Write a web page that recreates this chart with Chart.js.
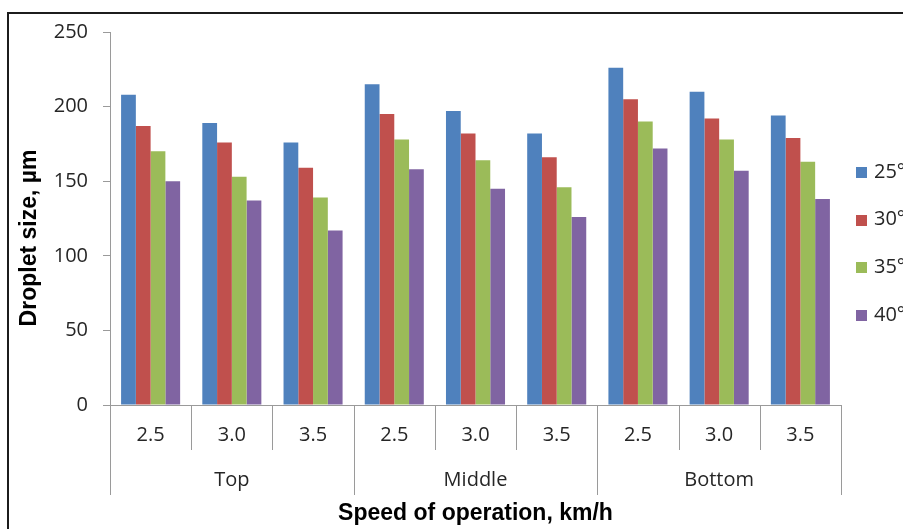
<!DOCTYPE html>
<html>
<head>
<meta charset="utf-8">
<script src="https://cdn.jsdelivr.net/npm/chart.js@4/dist/chart.umd.min.js"></script>
<style>
  html, body { margin: 0; padding: 0; background: #fff; overflow: hidden; }
  #wrap { position: relative; width: 903px; height: 529px; }
  #marco { position: absolute; left: 7px; top: 12px; width: 1000px; height: 1000px;
           border-left: 2px solid #1c1c1c; border-top: 2px solid #1c1c1c; }
  #grafico { position: absolute; left: 0; top: 0; }
</style>
</head>
<body>
<div id="wrap">
  <div id="marco"></div>
  <canvas id="grafico" width="903" height="529"></canvas>
</div>
<script>
// Datos
const velocidades = ['2.5', '3.0', '3.5'];
const posiciones = ['Top', 'Middle', 'Bottom'];
const angulos = ['25°', '30°', '35°', '40°'];

const gota25 = [208, 189, 176, 215, 197, 182, 226, 210, 194];
const gota30 = [187, 176, 159, 195, 182, 166, 205, 192, 179];
const gota35 = [170, 153, 139, 178, 164, 146, 190, 178, 163];
const gota40 = [150, 137, 117, 158, 145, 126, 172, 157, 138];

const colores = ['#4F81BD', '#C0504D', '#9BBB59', '#8064A2'];

// etiquetas de categoria: velocidad dentro de cada posicion
const etiquetas = posiciones.flatMap(() => velocidades);

const fuente = '"Open Sans", sans-serif';
const fuenteTitulo = '"Liberation Sans", Arial, sans-serif';
const colorTexto = '#262626';
const colorEje = '#9a9a9a';

// Dibuja separadores, segundo nivel del eje X, titulo Y y leyenda
const extras = {
    id: 'extras',
    afterDraw(chart) {
        const ctx = chart.ctx;
        const area = chart.chartArea;
        const xs = chart.scales.x;
        const n = chart.data.labels.length;
        const paso = (area.right - area.left) / n;
        const grupo = velocidades.length;

        ctx.save();
        ctx.strokeStyle = colorEje;
        ctx.lineWidth = 1;
        for (let k = 0; k <= n; k++) {
            const px = Math.round(area.left + k * paso) + 0.5;
            const fin = (k % grupo === 0) ? 495 : 450;
            ctx.beginPath();
            ctx.moveTo(px, area.bottom);
            ctx.lineTo(px, fin);
            ctx.stroke();
        }

        // nombres de posicion
        ctx.fillStyle = colorTexto;
        ctx.font = '20px ' + fuente;
        ctx.textAlign = 'center';
        ctx.textBaseline = 'middle';
        posiciones.forEach((p, g) => {
            const cx = xs.getPixelForValue(g * grupo + 1);
            ctx.fillText(p, cx, 480);
        });

        // titulo del eje Y
        ctx.save();
        ctx.translate(30, 238);
        ctx.rotate(-Math.PI / 2);
        ctx.font = 'bold 23px ' + fuenteTitulo;
        ctx.fillStyle = '#000';
        ctx.fillText('Droplet size, µm', 0, 0);
        ctx.restore();

        // leyenda
        ctx.font = '20px ' + fuente;
        ctx.textAlign = 'left';
        chart.data.datasets.forEach((ds, i) => {
            const cy = 172 + i * 47.7;
            ctx.fillStyle = ds.backgroundColor;
            ctx.fillRect(856, Math.round(cy - 5), 11, 11);
            ctx.fillStyle = colorTexto;
            ctx.fillText(ds.label, 874, cy);
        });
        ctx.restore();
    }
};

const ctx = document.getElementById('grafico').getContext('2d');
new Chart(ctx, {
    type: 'bar',
    data: {
        labels: etiquetas,
        datasets: [gota25, gota30, gota35, gota40].map((serie, i) => ({
            label: angulos[i],
            data: serie,
            backgroundColor: colores[i],
            borderWidth: 0,
            categoryPercentage: 0.727,
            barPercentage: 1
        }))
    },
    options: {
        responsive: false,
        animation: false,
        layout: { padding: { top: 32, right: 62, left: 0, bottom: 0 } },
        plugins: {
            legend: { display: false },
            tooltip: { enabled: false }
        },
        scales: {
            x: {
                grid: { display: false, drawTicks: false },
                border: { display: true, color: colorEje, width: 1 },
                ticks: {
                    autoSkip: false,
                    maxRotation: 0,
                    padding: 18,
                    color: colorTexto,
                    font: { family: fuente, size: 20 }
                },
                title: {
                    display: true,
                    text: 'Speed of operation, km/h',
                    color: '#000',
                    font: { family: fuenteTitulo, size: 23, weight: 'bold' },
                    padding: { top: 0, bottom: 2 }
                },
                afterFit: s => { s.height = 124; }
            },
            y: {
                min: 0,
                max: 250,
                ticks: {
                    stepSize: 50,
                    padding: 15,
                    color: colorTexto,
                    font: { family: fuente, size: 20 }
                },
                grid: { drawOnChartArea: false, drawTicks: true, tickLength: 7, color: colorEje },
                border: { display: true, color: colorEje, width: 1 },
                afterFit: s => { s.width = 110; }
            }
        }
    },
    plugins: [extras]
});
</script>
</body>
</html>
